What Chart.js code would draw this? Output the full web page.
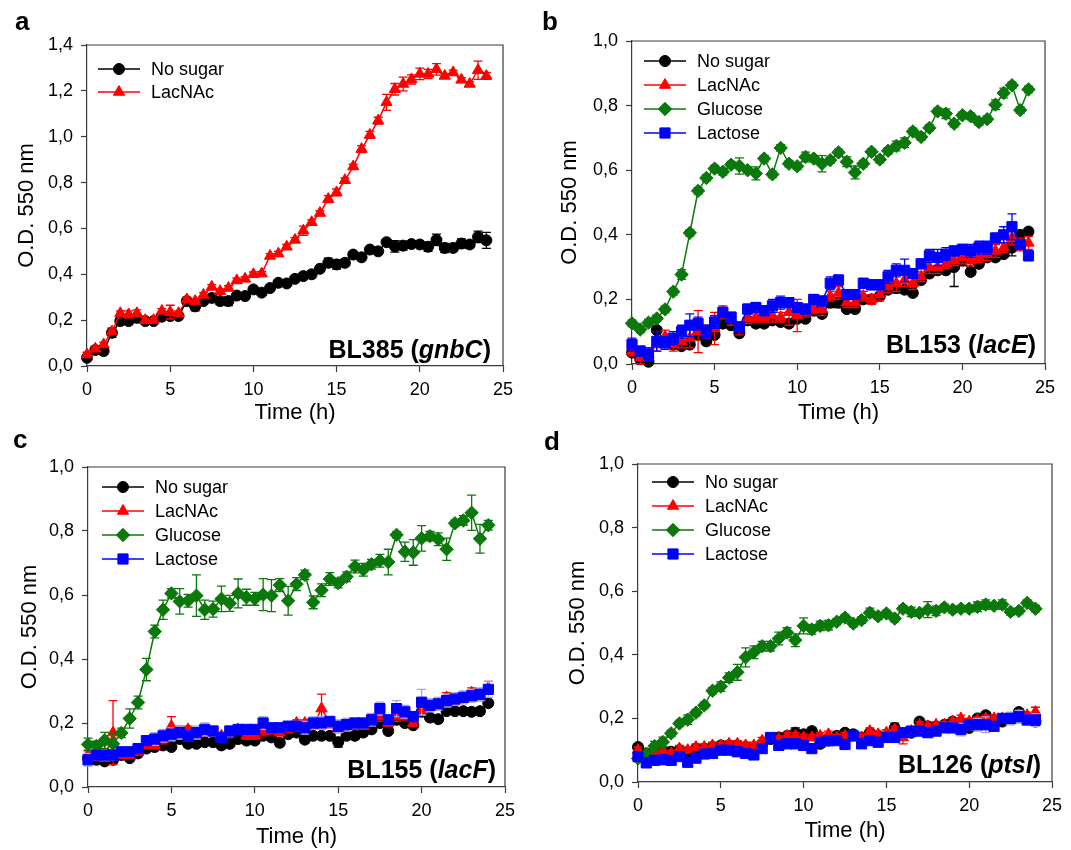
<!DOCTYPE html>
<html>
<head>
<meta charset="utf-8">
<script src="https://cdn.jsdelivr.net/npm/chart.js@4.4.1/dist/chart.umd.min.js"></script>
<style>
  body { margin: 0; background: #fff; width: 1071px; height: 850px; position: relative; overflow: hidden; }
  canvas { position: absolute; }
</style>
</head>
<body>
<canvas id="chartA"></canvas>
<canvas id="chartB"></canvas>
<canvas id="chartC"></canvas>
<canvas id="chartD"></canvas>
<script>
// time points (h)
const hours = [0,0.5,1,1.5,2,2.5,3,3.5,4,4.5,5,5.5,6,6.5,7,7.5,8,8.5,9,9.5,10,10.5,11,11.5,12,12.5,13,13.5,14,14.5,15,15.5,16,16.5,17,17.5,18,18.5,19,19.5,20,20.5,21,21.5,22,22.5,23,23.5,24];

const xTickLabels = ['0', '5', '10', '15', '20', '25'];
const yTickLabelsA = ['0,0', '0,2', '0,4', '0,6', '0,8', '1,0', '1,2', '1,4'];
const yTickLabels = ['0,0', '0,2', '0,4', '0,6', '0,8', '1,0'];

// a - BL385 (gnbC)
const aNoSugar = [0.036,0.07,0.065,0.145,0.196,0.196,0.21,0.196,0.196,0.215,0.218,0.218,0.283,0.26,0.283,0.297,0.283,0.283,0.307,0.305,0.334,0.32,0.34,0.363,0.36,0.38,0.392,0.40,0.424,0.45,0.443,0.45,0.486,0.474,0.508,0.50,0.54,0.522,0.525,0.532,0.53,0.52,0.55,0.515,0.515,0.534,0.53,0.563,0.548];
const aNoSugarErr = [0.01,0.015,0.015,0.02,0.015,0.015,0.015,0.01,0.01,0.01,0.01,0.01,0.01,0.02,0.01,0.01,0.015,0.02,0.01,0.01,0.01,0.01,0.01,0.01,0.01,0.01,0.01,0.015,0.01,0.02,0.02,0.015,0.01,0.01,0.01,0.01,0.01,0.025,0.02,0.015,0.01,0.02,0.025,0.02,0.015,0.02,0.015,0.025,0.035];
const aLacNAc = [0.05,0.075,0.094,0.15,0.23,0.225,0.23,0.20,0.20,0.24,0.235,0.23,0.29,0.283,0.31,0.345,0.326,0.34,0.373,0.38,0.40,0.403,0.48,0.49,0.52,0.55,0.59,0.627,0.667,0.728,0.757,0.81,0.87,0.946,1.008,1.07,1.15,1.207,1.23,1.25,1.274,1.274,1.294,1.265,1.28,1.248,1.23,1.29,1.265];
const aLacNAcErr = [0.01,0.01,0.01,0.01,0.01,0.015,0.015,0.01,0.01,0.01,0.03,0.01,0.01,0.01,0.01,0.01,0.01,0.01,0.01,0.01,0.01,0.01,0.01,0.01,0.01,0.01,0.02,0.01,0.01,0.015,0.015,0.01,0.01,0.015,0.015,0.015,0.035,0.025,0.03,0.02,0.025,0.02,0.025,0.01,0.01,0.01,0.01,0.04,0.015];

// b - BL153 (lacE)
const bNoSugar = [0.035,0.015,0.007,0.105,0.07,0.06,0.055,0.06,0.09,0.07,0.09,0.125,0.12,0.095,0.135,0.125,0.125,0.135,0.13,0.125,0.14,0.14,0.165,0.155,0.19,0.19,0.17,0.17,0.2,0.2,0.21,0.23,0.235,0.23,0.22,0.26,0.28,0.29,0.29,0.3,0.32,0.285,0.31,0.33,0.33,0.34,0.36,0.40,0.41];
const bNoSugarErr = [0.01,0.01,0.01,0.01,0.01,0.01,0.01,0.01,0.01,0.01,0.01,0.01,0.01,0.01,0.01,0.01,0.01,0.01,0.01,0.01,0.01,0.01,0.01,0.01,0.015,0.015,0.01,0.01,0.01,0.01,0.01,0.01,0.015,0.01,0.01,0.01,0.01,0.01,0.01,0.06,0.015,0.01,0.01,0.01,0.01,0.01,0.025,0.01,0.01];
const bLacNAc = [0.04,0.02,0.03,0.06,0.085,0.06,0.07,0.08,0.1,0.1,0.11,0.16,0.14,0.11,0.14,0.145,0.145,0.15,0.145,0.16,0.15,0.16,0.17,0.17,0.21,0.22,0.19,0.19,0.21,0.2,0.215,0.24,0.25,0.26,0.25,0.27,0.3,0.3,0.31,0.32,0.33,0.32,0.33,0.34,0.35,0.36,0.39,0.37,0.375];
const bLacNAcErr = [0.015,0.02,0.02,0.02,0.02,0.02,0.02,0.03,0.065,0.02,0.05,0.02,0.02,0.02,0.015,0.015,0.015,0.02,0.015,0.04,0.05,0.015,0.015,0.02,0.015,0.02,0.015,0.015,0.015,0.015,0.02,0.02,0.025,0.02,0.02,0.015,0.02,0.02,0.015,0.015,0.02,0.015,0.015,0.02,0.02,0.015,0.02,0.02,0.02];
const bGlucose = [0.126,0.107,0.128,0.141,0.169,0.224,0.277,0.406,0.536,0.576,0.605,0.595,0.617,0.613,0.60,0.59,0.636,0.587,0.669,0.62,0.612,0.641,0.636,0.62,0.631,0.655,0.626,0.593,0.62,0.657,0.633,0.66,0.675,0.685,0.72,0.703,0.731,0.782,0.775,0.744,0.77,0.767,0.749,0.758,0.803,0.839,0.863,0.786,0.85];
const bGlucoseErr = [0.01,0.01,0.01,0.01,0.01,0.01,0.015,0.01,0.01,0.01,0.01,0.01,0.01,0.025,0.01,0.02,0.01,0.01,0.01,0.01,0.01,0.015,0.01,0.025,0.01,0.01,0.015,0.02,0.01,0.01,0.01,0.01,0.015,0.015,0.01,0.01,0.01,0.01,0.015,0.01,0.01,0.01,0.01,0.01,0.015,0.015,0.01,0.01,0.01];
const bLactose = [0.06,0.04,0.03,0.07,0.065,0.08,0.1,0.12,0.125,0.1,0.13,0.16,0.145,0.115,0.17,0.175,0.165,0.18,0.19,0.19,0.175,0.17,0.2,0.195,0.25,0.26,0.215,0.215,0.25,0.245,0.245,0.27,0.29,0.29,0.28,0.31,0.335,0.33,0.34,0.35,0.355,0.35,0.36,0.36,0.39,0.4,0.425,0.37,0.335];
const bLactoseErr = [0.02,0.015,0.02,0.03,0.02,0.02,0.02,0.035,0.02,0.02,0.02,0.015,0.015,0.01,0.015,0.015,0.015,0.02,0.02,0.015,0.015,0.015,0.015,0.015,0.02,0.015,0.015,0.015,0.015,0.015,0.015,0.02,0.02,0.035,0.015,0.015,0.02,0.025,0.02,0.015,0.015,0.02,0.02,0.02,0.015,0.025,0.04,0.015,0.015];

// c - BL155 (lacF)
const cNoSugar = [0.09,0.085,0.08,0.085,0.1,0.09,0.105,0.12,0.125,0.13,0.125,0.15,0.135,0.135,0.14,0.14,0.13,0.135,0.15,0.145,0.145,0.16,0.155,0.138,0.165,0.17,0.148,0.16,0.16,0.16,0.14,0.16,0.16,0.17,0.18,0.2,0.175,0.21,0.2,0.193,0.235,0.217,0.212,0.237,0.237,0.237,0.235,0.237,0.262];
const cNoSugarErr = [0.01,0.01,0.01,0.01,0.01,0.01,0.01,0.01,0.01,0.01,0.01,0.01,0.01,0.01,0.01,0.01,0.01,0.01,0.01,0.01,0.01,0.01,0.01,0.01,0.01,0.01,0.01,0.01,0.01,0.01,0.015,0.01,0.01,0.01,0.01,0.01,0.01,0.01,0.01,0.01,0.01,0.01,0.01,0.01,0.01,0.01,0.01,0.01,0.01];
const cLacNAc = [0.1,0.095,0.09,0.17,0.1,0.1,0.11,0.13,0.13,0.15,0.19,0.17,0.18,0.17,0.17,0.17,0.16,0.17,0.18,0.16,0.16,0.175,0.18,0.17,0.18,0.2,0.2,0.19,0.245,0.2,0.18,0.19,0.19,0.19,0.21,0.22,0.2,0.22,0.22,0.2,0.24,0.25,0.26,0.28,0.27,0.28,0.295,0.28,0.31];
const cLacNAcErr = [0.015,0.01,0.01,0.1,0.01,0.01,0.01,0.01,0.01,0.015,0.03,0.02,0.01,0.01,0.01,0.01,0.01,0.015,0.01,0.01,0.01,0.015,0.015,0.01,0.01,0.01,0.01,0.01,0.045,0.015,0.01,0.01,0.01,0.01,0.015,0.015,0.01,0.015,0.01,0.01,0.015,0.01,0.01,0.015,0.01,0.01,0.015,0.01,0.02];
const cGlucose = [0.133,0.128,0.146,0.135,0.169,0.214,0.264,0.367,0.486,0.554,0.605,0.58,0.582,0.598,0.554,0.556,0.588,0.574,0.605,0.593,0.588,0.601,0.598,0.631,0.582,0.634,0.663,0.577,0.615,0.65,0.637,0.657,0.689,0.679,0.696,0.707,0.703,0.788,0.735,0.733,0.777,0.784,0.774,0.743,0.824,0.833,0.857,0.776,0.818];
const cGlucoseErr = [0.02,0.015,0.025,0.03,0.015,0.03,0.02,0.035,0.02,0.03,0.015,0.04,0.02,0.065,0.03,0.025,0.04,0.025,0.045,0.025,0.02,0.05,0.05,0.02,0.045,0.02,0.015,0.02,0.02,0.02,0.015,0.015,0.02,0.02,0.015,0.02,0.04,0.01,0.03,0.04,0.04,0.015,0.02,0.035,0.01,0.015,0.055,0.045,0.015];
const cLactose = [0.085,0.1,0.1,0.1,0.11,0.11,0.12,0.145,0.15,0.16,0.165,0.17,0.16,0.17,0.18,0.175,0.155,0.175,0.18,0.18,0.18,0.2,0.185,0.185,0.19,0.19,0.185,0.2,0.2,0.205,0.19,0.195,0.2,0.2,0.21,0.245,0.21,0.245,0.235,0.22,0.265,0.255,0.26,0.27,0.275,0.28,0.285,0.29,0.305];
const cLactoseErr = [0.02,0.015,0.015,0.015,0.015,0.015,0.015,0.015,0.02,0.02,0.02,0.02,0.015,0.02,0.02,0.015,0.015,0.015,0.015,0.015,0.015,0.02,0.015,0.015,0.015,0.015,0.02,0.02,0.02,0.015,0.02,0.02,0.015,0.015,0.02,0.02,0.015,0.025,0.02,0.015,0.04,0.02,0.02,0.02,0.02,0.02,0.02,0.02,0.025];

// d - BL126 (ptsI)
const dNoSugar = [0.11,0.09,0.095,0.1,0.095,0.1,0.09,0.105,0.105,0.11,0.115,0.115,0.115,0.11,0.105,0.12,0.135,0.14,0.145,0.155,0.15,0.16,0.12,0.13,0.145,0.155,0.15,0.14,0.155,0.145,0.145,0.17,0.15,0.155,0.19,0.175,0.175,0.18,0.19,0.18,0.17,0.2,0.21,0.19,0.19,0.2,0.22,0.2,0.19];
const dNoSugarErr = [0.01,0.01,0.01,0.01,0.01,0.01,0.01,0.01,0.01,0.01,0.01,0.01,0.01,0.01,0.01,0.01,0.01,0.01,0.01,0.015,0.01,0.01,0.01,0.01,0.01,0.01,0.01,0.01,0.01,0.01,0.01,0.015,0.01,0.01,0.01,0.01,0.01,0.01,0.01,0.01,0.01,0.01,0.01,0.01,0.01,0.01,0.01,0.01,0.01];
const dLacNAc = [0.1,0.085,0.095,0.1,0.09,0.105,0.1,0.11,0.11,0.115,0.115,0.12,0.12,0.115,0.115,0.13,0.135,0.135,0.145,0.145,0.14,0.14,0.145,0.15,0.14,0.145,0.14,0.14,0.16,0.15,0.155,0.165,0.14,0.16,0.18,0.175,0.18,0.18,0.19,0.2,0.19,0.195,0.2,0.2,0.2,0.2,0.21,0.21,0.22];
const dLacNAcErr = [0.01,0.01,0.01,0.01,0.01,0.01,0.01,0.01,0.01,0.01,0.01,0.01,0.01,0.01,0.01,0.01,0.01,0.01,0.01,0.01,0.01,0.01,0.01,0.01,0.01,0.01,0.01,0.01,0.01,0.01,0.01,0.01,0.02,0.01,0.01,0.01,0.01,0.01,0.01,0.01,0.01,0.01,0.01,0.01,0.01,0.01,0.01,0.01,0.015];
const dGlucose = [0.074,0.088,0.113,0.126,0.153,0.184,0.196,0.218,0.241,0.287,0.30,0.328,0.345,0.392,0.408,0.427,0.427,0.451,0.47,0.446,0.491,0.48,0.491,0.493,0.504,0.517,0.498,0.509,0.532,0.521,0.53,0.514,0.545,0.535,0.532,0.542,0.538,0.549,0.542,0.545,0.545,0.551,0.558,0.554,0.558,0.535,0.538,0.563,0.545];
const dGlucoseErr = [0.01,0.01,0.015,0.015,0.01,0.01,0.015,0.01,0.01,0.01,0.015,0.015,0.025,0.03,0.02,0.015,0.015,0.02,0.015,0.02,0.025,0.015,0.015,0.015,0.01,0.01,0.01,0.01,0.015,0.01,0.01,0.01,0.01,0.015,0.01,0.025,0.015,0.01,0.01,0.01,0.01,0.015,0.015,0.01,0.015,0.01,0.01,0.01,0.01];
const dLactose = [0.08,0.06,0.068,0.07,0.068,0.08,0.062,0.075,0.088,0.09,0.1,0.1,0.095,0.09,0.085,0.105,0.14,0.115,0.12,0.12,0.115,0.105,0.125,0.13,0.13,0.118,0.145,0.12,0.13,0.125,0.14,0.14,0.155,0.16,0.16,0.155,0.16,0.17,0.17,0.165,0.18,0.18,0.18,0.175,0.2,0.2,0.205,0.195,0.195];
const dLactoseErr = [0.01,0.01,0.01,0.01,0.01,0.01,0.01,0.01,0.01,0.01,0.01,0.01,0.01,0.01,0.01,0.01,0.01,0.01,0.01,0.01,0.01,0.01,0.01,0.015,0.01,0.015,0.01,0.01,0.01,0.01,0.01,0.01,0.015,0.015,0.01,0.01,0.01,0.01,0.015,0.02,0.015,0.02,0.025,0.015,0.015,0.02,0.02,0.015,0.02];

const FONT = '"Liberation Sans", Arial, Helvetica, sans-serif';
const AXIS = '#3a3a3a';

// series looks
const NONE = { label: 'No sugar', color: '#000000', style: 'circle', radius: 5.5 };
const LAC = { label: 'LacNAc', color: '#ff0000', style: 'triangle', radius: 6.5 };
const GLC = { label: 'Glucose', color: '#0a780a', style: 'rectRot', radius: 6.7 };
const LCT = { label: 'Lactose', color: '#0000ff', style: 'rect', radius: 7.2 };

function legendMarker(ctx, s, x, y) {
    ctx.fillStyle = s.color;
    ctx.strokeStyle = s.color;
    ctx.lineWidth = 1;
    if (Chart.helpers && Chart.helpers.drawPoint) {
        Chart.helpers.drawPoint(ctx, { pointStyle: s.style, radius: s.radius, borderWidth: 1, rotation: 0 }, x, y);
        return;
    }
    const r = s.radius;
    ctx.beginPath();
    if (s.style === 'circle') ctx.arc(x, y, r, 0, Math.PI * 2);
    else if (s.style === 'triangle') {
        ctx.moveTo(x, y - r); ctx.lineTo(x + r * 0.866, y + r / 2); ctx.lineTo(x - r * 0.866, y + r / 2);
    } else if (s.style === 'rectRot') {
        ctx.moveTo(x, y - r); ctx.lineTo(x + r, y); ctx.lineTo(x, y + r); ctx.lineTo(x - r, y);
    } else {
        const h = r * 0.707; ctx.rect(x - h, y - h, 2 * h, 2 * h);
    }
    ctx.closePath(); ctx.fill(); ctx.stroke();
}

function makePanel(p) {
    const cv = document.getElementById(p.id);
    const [bl, bt, bw, bh] = p.box;
    const [pl, pt, pr, pb] = p.plot;
    cv.width = bw; cv.height = bh;
    cv.style.left = bl + 'px'; cv.style.top = bt + 'px';
    cv.style.width = bw + 'px'; cv.style.height = bh + 'px';

    const datasets = p.lines.map((s, i) => ({
        label: s.look.label,
        data: hours.map((t, k) => ({ x: t, y: s.values[k] })),
        errors: s.errors,
        errColor: s.errColor || s.look.color,
        borderColor: s.look.color,
        backgroundColor: s.look.color,
        pointBorderColor: s.look.color,
        pointBackgroundColor: s.look.color,
        borderWidth: 1.5,
        pointStyle: s.look.style,
        pointRadius: s.look.radius,
        pointBorderWidth: 1,
        tension: 0,
        clip: false,
        order: p.lines.length - i
    }));

    const decor = {
        id: 'decor' + p.id,
        beforeDatasetDraw(chart, args) {
            const ds = chart.data.datasets[args.index];
            const xs = chart.scales.x, ys = chart.scales.y, ctx = chart.ctx;
            ctx.save();
            ctx.strokeStyle = ds.errColor;
            ctx.lineWidth = 1.3;
            ds.data.forEach((pt, k) => {
                const e = ds.errors[k];
                const px = xs.getPixelForValue(pt.x);
                const top = ys.getPixelForValue(pt.y + e);
                const bot = ys.getPixelForValue(pt.y - e);
                ctx.beginPath();
                ctx.moveTo(px, top); ctx.lineTo(px, bot);
                ctx.moveTo(px - 4.5, top); ctx.lineTo(px + 4.5, top);
                ctx.moveTo(px - 4.5, bot); ctx.lineTo(px + 4.5, bot);
                ctx.stroke();
            });
            ctx.restore();
        },
        afterDraw(chart) {
            const ctx = chart.ctx, ca = chart.chartArea;
            ctx.save();
            // top and right side of the frame
            ctx.strokeStyle = AXIS;
            ctx.lineWidth = 1.2;
            ctx.beginPath();
            ctx.moveTo(ca.left, ca.top); ctx.lineTo(ca.right, ca.top); ctx.lineTo(ca.right, ca.bottom);
            ctx.stroke();

            // legend
            const [lx, ly, lgap] = p.legend;
            ctx.font = '18px ' + FONT;
            ctx.textBaseline = 'middle';
            ctx.textAlign = 'left';
            p.lines.forEach((s, i) => {
                const y = ca.top + ly + i * lgap;
                const x0 = ca.left + lx;
                ctx.strokeStyle = s.look.color;
                ctx.lineWidth = 1.5;
                ctx.beginPath(); ctx.moveTo(x0, y); ctx.lineTo(x0 + 42, y); ctx.stroke();
                legendMarker(ctx, s.look, x0 + 21, y);
                ctx.fillStyle = '#000';
                ctx.fillText(s.look.label, x0 + 53, y + 1);
            });

            // strain label, bold with italic gene name
            ctx.textBaseline = 'alphabetic';
            const fonts = p.strain.map(part => (part[1] ? 'italic ' : '') + 'bold 25px ' + FONT);
            let total = 0;
            p.strain.forEach((part, i) => { ctx.font = fonts[i]; total += ctx.measureText(part[0]).width; });
            let x = ca.right - p.strainPos[0] - total;
            const y = ca.bottom - p.strainPos[1];
            ctx.fillStyle = '#000';
            p.strain.forEach((part, i) => {
                ctx.font = fonts[i];
                ctx.fillText(part[0], x, y);
                x += ctx.measureText(part[0]).width;
            });

            // panel letter
            ctx.font = 'bold 26px ' + FONT;
            ctx.fillText(p.letter, p.letterPos[0] - bl, p.letterPos[1] - bt);
            ctx.restore();
        }
    };

    new Chart(cv, {
        type: 'line',
        data: { datasets },
        options: {
            responsive: false,
            animation: false,
            devicePixelRatio: 1,
            layout: {
                padding: {
                    left: pl - bl - p.yW,
                    top: pt - bt,
                    right: bl + bw - pr,
                    bottom: bt + bh - pb - p.xH
                }
            },
            plugins: { legend: { display: false }, tooltip: { enabled: false } },
            scales: {
                x: {
                    type: 'linear', min: 0, max: 25,
                    afterFit: s => { s.height = p.xH; },
                    ticks: {
                        stepSize: 5, autoSkip: false, maxRotation: 0, padding: 7,
                        color: '#000', font: { family: FONT, size: 18 },
                        callback: (v, i) => xTickLabels[i]
                    },
                    grid: { display: true, drawOnChartArea: false, drawTicks: true, tickLength: 6, tickColor: AXIS, tickWidth: 1.2 },
                    border: { display: true, color: AXIS, width: 1.2 },
                    title: { display: true, text: 'Time (h)', color: '#000', font: { family: FONT, size: 22 }, padding: 0 }
                },
                y: {
                    min: 0, max: p.yMax,
                    afterFit: s => { s.width = p.yW; },
                    ticks: {
                        stepSize: 0.2, autoSkip: false, padding: 8,
                        color: '#000', font: { family: FONT, size: 18 },
                        callback: (v, i) => p.yLabels[i]
                    },
                    grid: { display: true, drawOnChartArea: false, drawTicks: true, tickLength: 6, tickColor: AXIS, tickWidth: 1.2 },
                    border: { display: true, color: AXIS, width: 1.2 },
                    title: { display: true, text: 'O.D. 550 nm', color: '#000', font: { family: FONT, size: 22 }, padding: 0 }
                }
            }
        },
        plugins: [decor]
    });
}

makePanel({
    id: 'chartA', box: [0, 0, 535, 430], plot: [87, 45, 503, 366], yW: 73, xH: 60,
    yMax: 1.4, yLabels: yTickLabelsA, legend: [11, 24, 23],
    strain: [['BL385 (', false], ['gnbC', true], [')', false]], strainPos: [12, 8],
    letter: 'a', letterPos: [15, 30],
    lines: [
        { look: NONE, values: aNoSugar, errors: aNoSugarErr },
        { look: LAC, values: aLacNAc, errors: aLacNAcErr }
    ]
});

makePanel({
    id: 'chartB', box: [535, 0, 536, 430], plot: [632, 41, 1045, 364], yW: 75, xH: 62,
    yMax: 1.0, yLabels: yTickLabels, legend: [12, 20, 24],
    strain: [['BL153 (', false], ['lacE', true], [')', false]], strainPos: [9, 11],
    letter: 'b', letterPos: [542, 30],
    lines: [
        { look: NONE, values: bNoSugar, errors: bNoSugarErr },
        { look: LAC, values: bLacNAc, errors: bLacNAcErr },
        { look: GLC, values: bGlucose, errors: bGlucoseErr },
        { look: LCT, values: bLactose, errors: bLactoseErr }
    ]
});

makePanel({
    id: 'chartC', box: [0, 425, 535, 425], plot: [88, 467, 505, 787], yW: 71, xH: 63,
    yMax: 1.0, yLabels: yTickLabels, legend: [14, 20, 24],
    strain: [['BL155 (', false], ['lacF', true], [')', false]], strainPos: [9, 9],
    letter: 'c', letterPos: [13, 448],
    lines: [
        { look: NONE, values: cNoSugar, errors: cNoSugarErr },
        { look: LAC, values: cLacNAc, errors: cLacNAcErr },
        { look: GLC, values: cGlucose, errors: cGlucoseErr },
        { look: LCT, values: cLactose, errors: cLactoseErr, errColor: '#a4a4ee' }
    ]
});

makePanel({
    id: 'chartD', box: [535, 425, 536, 425], plot: [638, 464, 1052, 782], yW: 73, xH: 62,
    yMax: 1.0, yLabels: yTickLabels, legend: [14, 18, 24],
    strain: [['BL126 (', false], ['ptsI', true], [')', false]], strainPos: [11, 9],
    letter: 'd', letterPos: [544, 450],
    lines: [
        { look: NONE, values: dNoSugar, errors: dNoSugarErr },
        { look: LAC, values: dLacNAc, errors: dLacNAcErr },
        { look: GLC, values: dGlucose, errors: dGlucoseErr },
        { look: LCT, values: dLactose, errors: dLactoseErr, errColor: '#a4a4ee' }
    ]
});
</script>
</body>
</html>
